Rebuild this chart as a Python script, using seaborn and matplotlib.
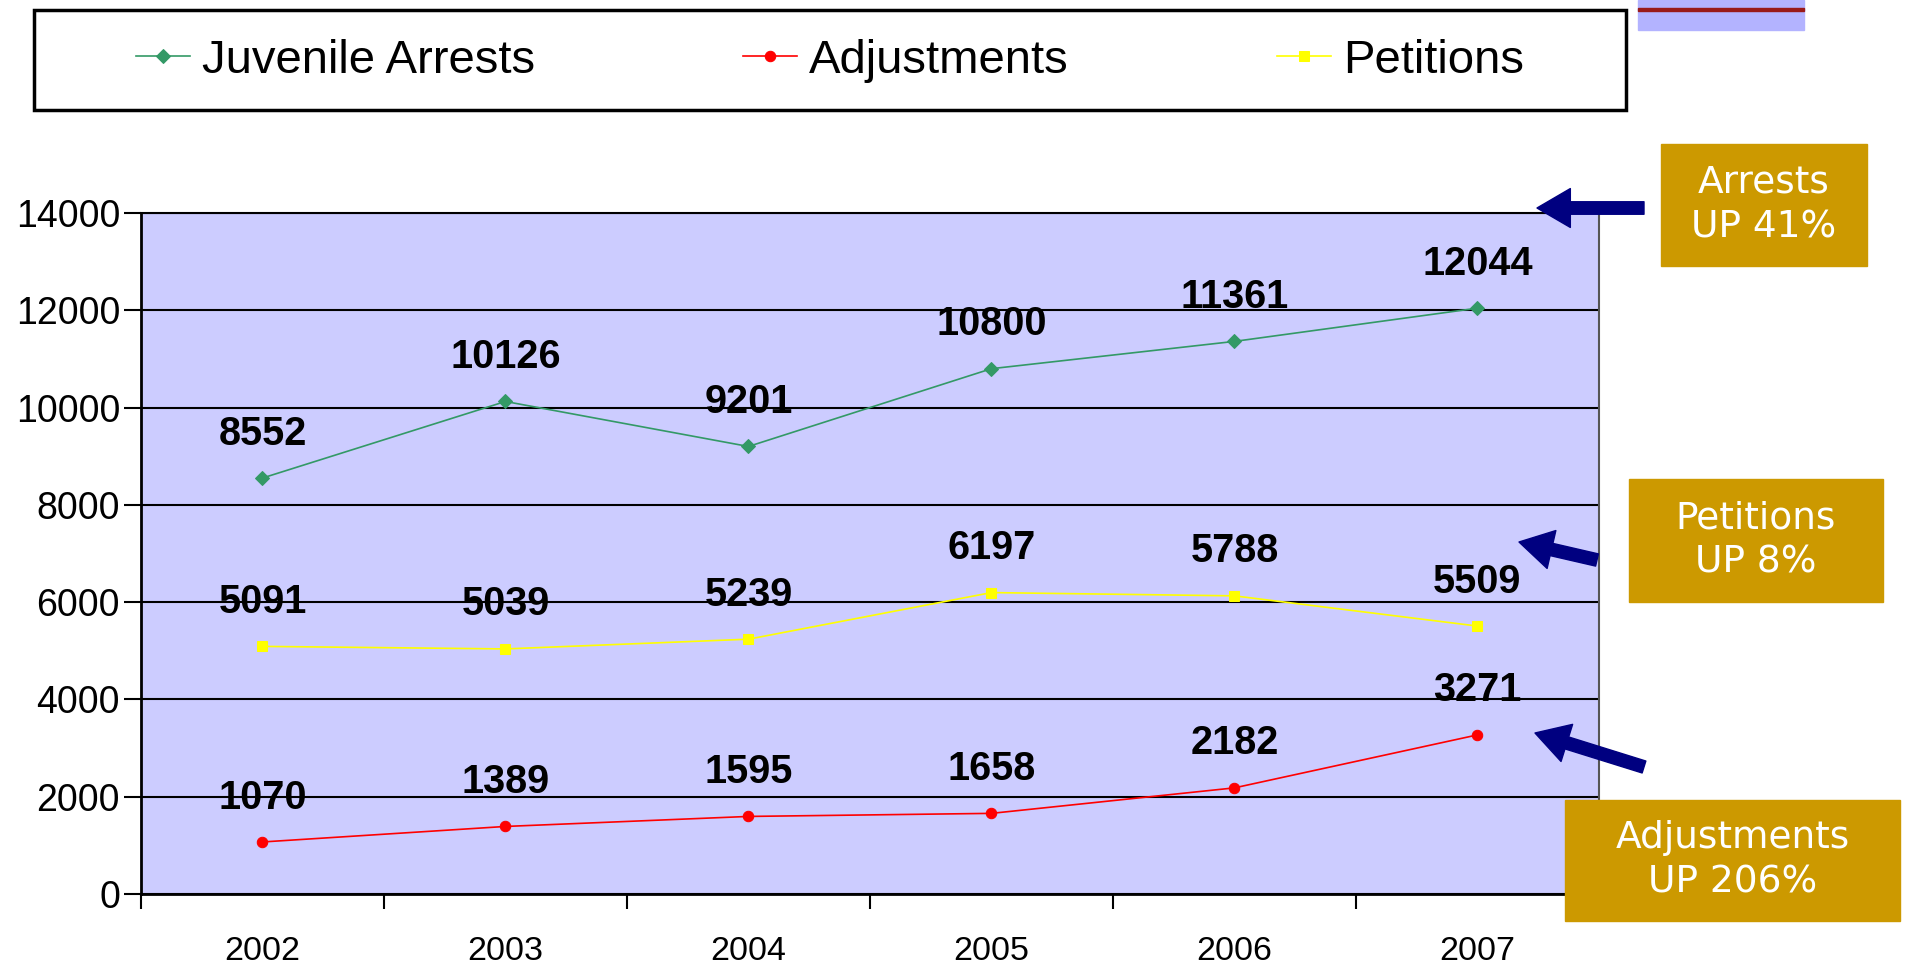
import matplotlib
matplotlib.use("Agg")
import matplotlib.pyplot as plt
from matplotlib.patches import Rectangle
import pandas as pd
import seaborn as sns

# data
years = ["2002", "2003", "2004", "2005", "2006", "2007"]
arrests = [8552, 10126, 9201, 10800, 11361, 12044]
adjustments = [1070, 1389, 1595, 1658, 2182, 3271]
petitions = [5091, 5039, 5239, 6197, 6130, 5509]
# the printed value labels (2006 petitions label differs from the plotted point)
arrests_labels = ["8552", "10126", "9201", "10800", "11361", "12044"]
adjustments_labels = ["1070", "1389", "1595", "1658", "2182", "3271"]
petitions_labels = ["5091", "5039", "5239", "6197", "5788", "5509"]

series_names = ["Juvenile Arrests", "Adjustments", "Petitions"]
series_colors = ["#339966", "#FF0000", "#FFFF00"]
series_markers = ["D", "o", "s"]
callouts = ["Arrests\nUP 41%", "Petitions\nUP 8%", "Adjustments\nUP 206%"]

df = pd.DataFrame({"year": years, "Juvenile Arrests": arrests,
                   "Adjustments": adjustments, "Petitions": petitions})

plt.rcParams['font.family'] = ['Liberation Sans', 'DejaVu Sans']

fig = plt.figure(figsize=(19.1, 9.64), dpi=100)
ax = fig.add_axes([0.0738, 0.0726, 0.7633, 0.7064])
ax.set_facecolor("#CCCCFF")

all_labels = [arrests_labels, adjustments_labels, petitions_labels]
msizes = [7, 7.5, 7.5]
for name, col, mk, labs, ms in zip(series_names, series_colors, series_markers, all_labels, msizes):
    sns.lineplot(data=df, x="year", y=name, ax=ax, color=col, marker=mk,
                 markersize=ms, markeredgecolor=col, linewidth=1.2, label=name, sort=False)
    for yr, val, lab in zip(df["year"], df[name], labs):
        ax.annotate(lab, (yr, val), xytext=(0, 32), textcoords="offset points",
                    ha="center", va="center", fontsize=28.5, fontweight="bold")

ax.set_xlim(-0.5, 5.5)
ax.set_ylim(0, 14000)
ax.set_yticks(range(0, 14001, 2000))
ax.yaxis.grid(True, color="black", linewidth=1.5)
ax.set_axisbelow(True)
ax.set_xlabel("")
ax.set_ylabel("")
ax.tick_params(axis="y", labelsize=27, length=12, width=1.5, pad=3)
ax.tick_params(axis="x", which="major", labelsize=24.5, length=0, pad=30)
ax.set_xticks([i - 0.5 for i in range(7)], minor=True)
ax.tick_params(axis="x", which="minor", length=11, width=1.5, direction="out")
for s in ["left", "bottom"]:
    ax.spines[s].set_linewidth(2)
    ax.spines[s].set_color("black")
ax.spines["right"].set_color("#555555")
ax.spines["right"].set_linewidth(1.5)
ax.spines["top"].set_color("black")
ax.spines["top"].set_linewidth(1.5)

# legend: separate frame box, entries centered inside it
fig.patches.append(Rectangle((34 / 1910, 1 - 110 / 964), 1592 / 1910, 100 / 964,
                             transform=fig.transFigure, facecolor="white",
                             edgecolor="black", linewidth=2.5, zorder=1))
handles, labels = ax.get_legend_handles_labels()
ax.get_legend().remove()
leg = fig.legend(handles, labels, loc="center", ncol=3,
                 bbox_to_anchor=((34 + 1626) / 2 / 1910, 1 - 61 / 964),
                 fontsize=34, frameon=False, handlelength=1.15,
                 handletextpad=0.25, columnspacing=4.4, borderaxespad=0)
leg.set_zorder(2)

# small decoration at the top right
fig.patches.append(Rectangle((1638 / 1910, 1 - 30 / 964), 166 / 1910, 30 / 964,
                             transform=fig.transFigure, color="#B3B3FF", zorder=1))
fig.patches.append(Rectangle((1638 / 1910, 1 - 11 / 964), 166 / 1910, 3 / 964,
                             transform=fig.transFigure, color="#991A1A", zorder=2))

# gold callout boxes (pixel boxes: x0, y0 from top, x1, y1)
boxes = [(1661, 144, 1867, 266), (1629, 479, 1883, 602), (1565, 800, 1900, 921)]
for txt, (x0, y0, x1, y1) in zip(callouts, boxes):
    fig.patches.append(Rectangle((x0 / 1910, 1 - y1 / 964), (x1 - x0) / 1910, (y1 - y0) / 964,
                                 transform=fig.transFigure, color="#CC9900", zorder=3))
    fig.text((x0 + x1) / 2 / 1910, 1 - (y0 + y1) / 2 / 964, txt, ha="center", va="center",
             color="white", fontsize=27, family="DejaVu Sans", linespacing=1.3, zorder=4)

# navy arrows pointing to the series ends (figure pixels, origin bottom-left)
arrows = [((1644, 756), (1537, 756)), ((1597, 404), (1519, 422)), ((1644, 197), (1535, 231))]
for tail, head in arrows:
    ax.annotate("", xy=head, xycoords="figure pixels", xytext=tail, textcoords="figure pixels",
                arrowprops=dict(arrowstyle="simple,head_length=1.2,head_width=1.4,tail_width=0.45",
                                color="#000080", mutation_scale=20, shrinkA=0, shrinkB=0),
                annotation_clip=False)

plt.savefig("out.png", dpi=100)
